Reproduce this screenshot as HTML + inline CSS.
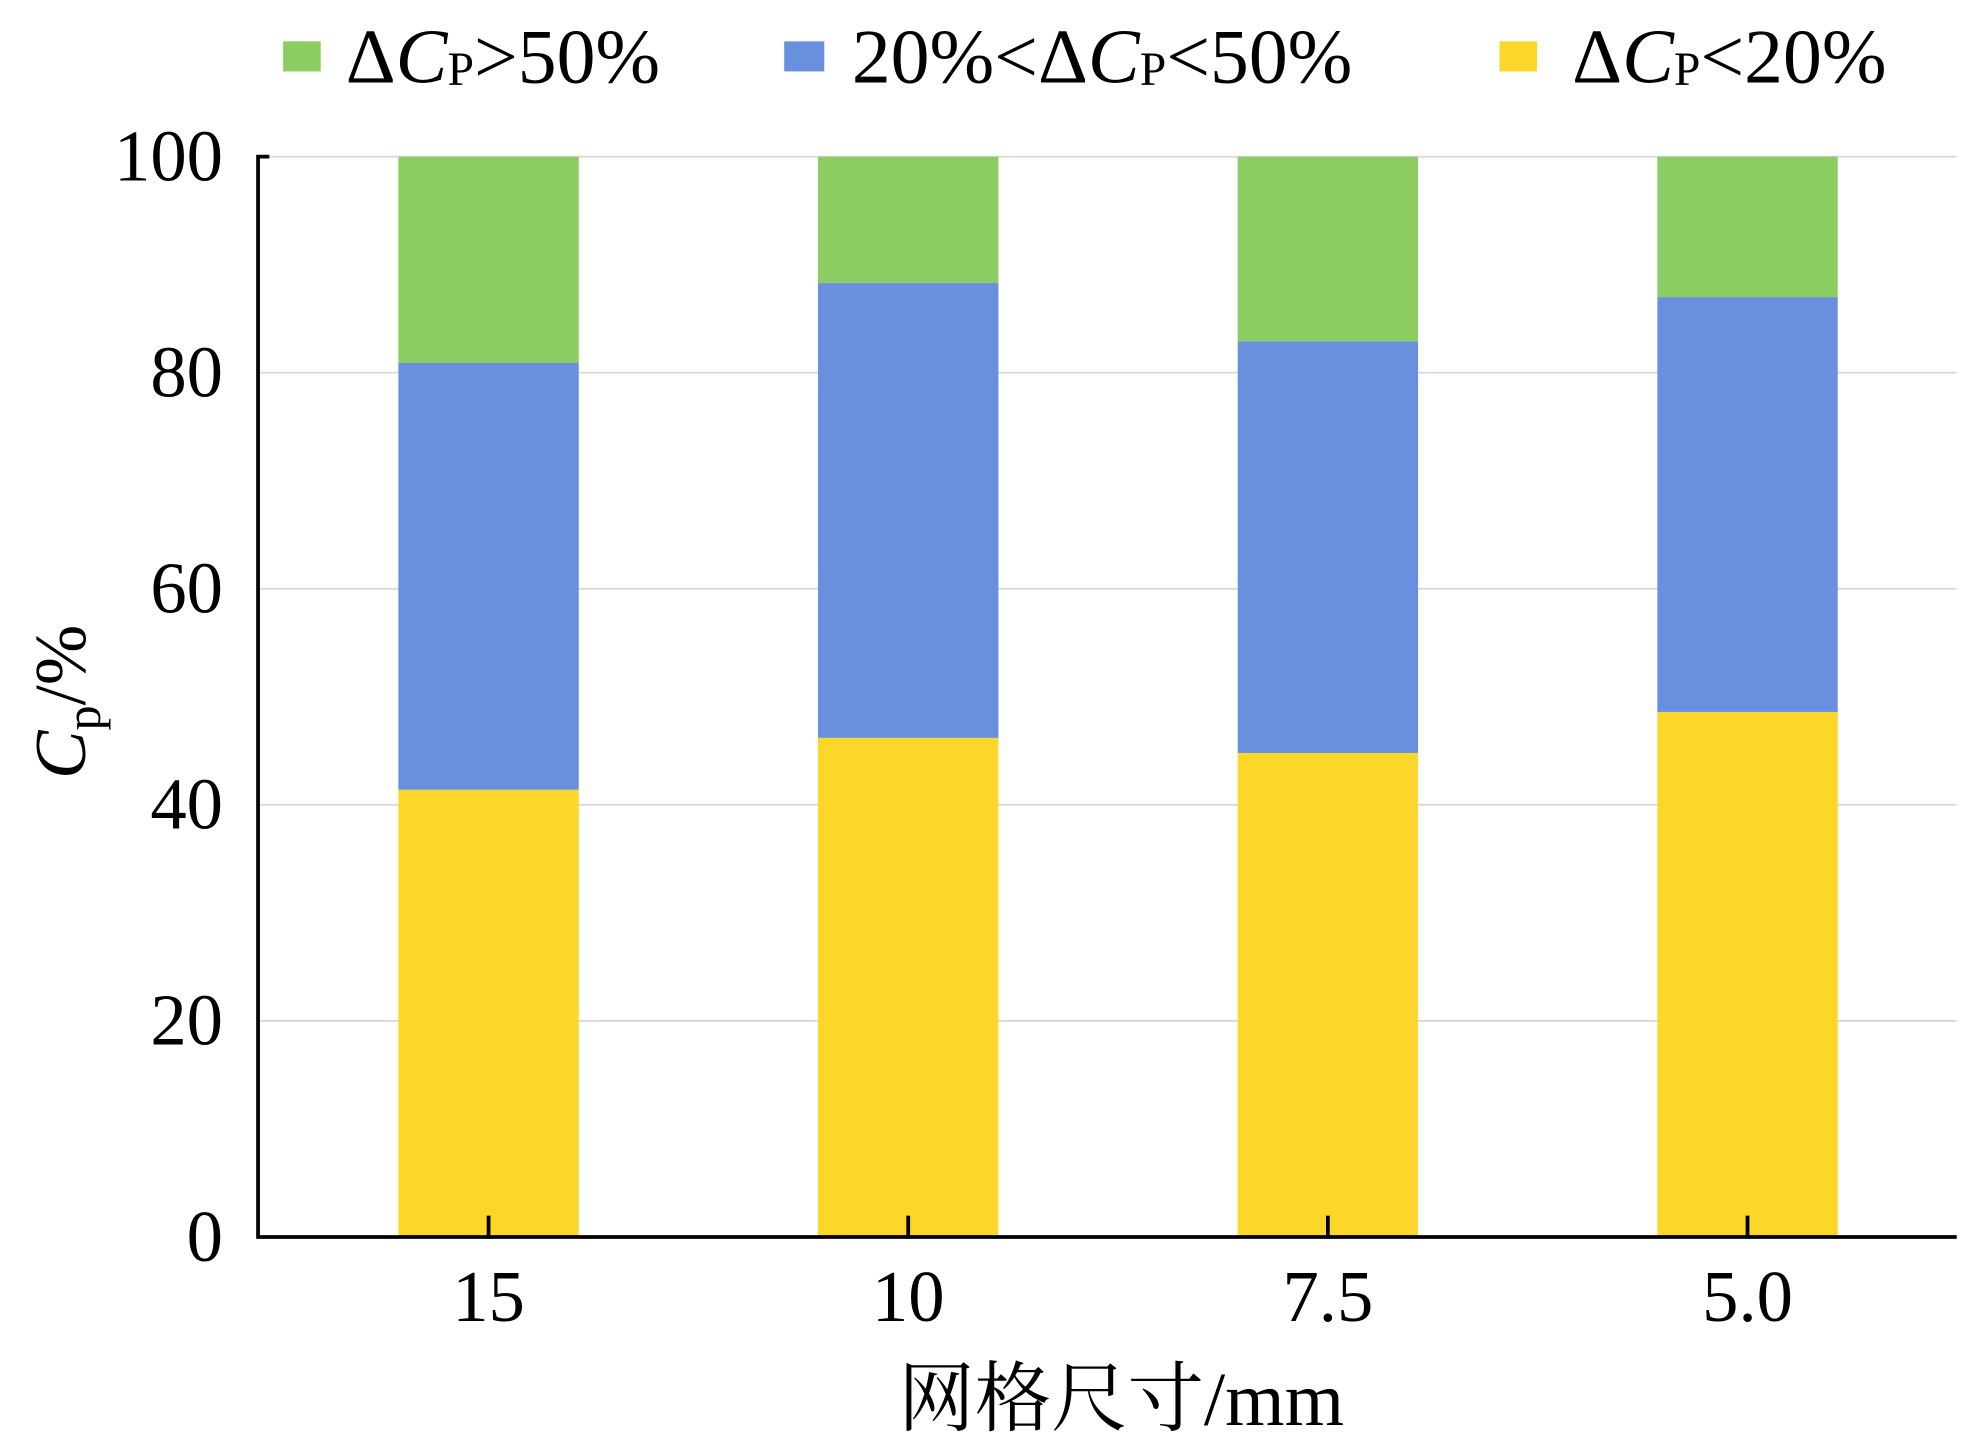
<!DOCTYPE html>
<html><head><meta charset="utf-8"><style>
html,body{margin:0;padding:0;background:#fff;}
svg{display:block;}
text{font-family:"Liberation Serif","Noto Serif CJK SC",serif;fill:#000;}
</style></head><body>
<svg id="chart" width="1963" height="1445" viewBox="0 0 1567 1153" preserveAspectRatio="none" xmlns="http://www.w3.org/2000/svg">
<g id="grid"></g>
<g id="bars"></g>
<g id="axes"></g>
<g>
  <rect x="226" y="33" width="30" height="24" fill="#8dcb63"/>
  <text x="276" y="66" font-size="62">Δ<tspan font-style="italic">C</tspan><tspan font-size="38" dy="2">P</tspan><tspan dy="-2">&gt;50%</tspan></text>
  <rect x="626" y="33" width="32" height="24" fill="#6890de"/>
  <text x="680" y="66" font-size="62">20%&lt;Δ<tspan font-style="italic">C</tspan><tspan font-size="38" dy="2">P</tspan><tspan dy="-2">&lt;50%</tspan></text>
  <rect x="1197" y="33" width="30" height="24" fill="#fdd62a"/>
  <text x="1255" y="66" font-size="62">Δ<tspan font-style="italic">C</tspan><tspan font-size="38" dy="2">P</tspan><tspan dy="-2">&lt;20%</tspan></text>
</g>
<text x="895" y="1137" font-size="61" text-anchor="middle">网格尺寸/mm</text>
<text transform="translate(68,560) rotate(-90)" font-size="58" text-anchor="middle"><tspan font-style="italic">C</tspan><tspan font-size="40" dy="12">p</tspan><tspan dy="-12">/%</tspan></text>
</svg>
<script>
const categories = ["15", "10", "7.5", "5.0"];
const lt20 = [41.4, 46.2, 44.8, 48.6];
const mid = [39.5, 42.1, 38.1, 38.4];
const gt50 = [19.1, 11.7, 17.1, 13.0];
const yTicks = [0, 20, 40, 60, 80, 100];

const NS = "http://www.w3.org/2000/svg";
const x0 = 206, x1 = 1562, yBot = 987, yTop = 125;
const y = v => yBot - (v / 100) * (yBot - yTop);
const band = 335, firstCenter = 390, barW = 144;
const xc = i => firstCenter + i * band;
function mk(tag, attrs, parent){const e=document.createElementNS(NS,tag);for(const k in attrs)e.setAttribute(k,attrs[k]);parent.appendChild(e);return e;}
const grid = document.getElementById('grid'), bars = document.getElementById('bars'), axes = document.getElementById('axes');
yTicks.forEach(t => {
  if (t > 0) {
    const g = mk('line', {x1:x0, x2:x1, y1:y(t), y2:y(t), stroke:'#d9d9d9', 'stroke-width':1.5}, grid);
    
    
  }
  const l = mk('text', {x:178, y:y(t)+19, 'font-size':58, 'text-anchor':'end'}, axes);
  l.textContent = t;
  
  
});
const series = [[lt20, '#fdd62a', 'lt20'], [mid, '#6890de', 'mid'], [gt50, '#8dcb63', 'gt50']];
categories.forEach((c, i) => {
  let base = 0;
  series.forEach(([arr, col, nm]) => {
    const v = arr[i];
    const r = mk('rect', {x:xc(i)-barW/2, y:y(base+v), width:barW, height:y(base)-y(base+v), fill:col}, bars);
    
    
    base += v;
  });
  const tk = mk('line', {x1:xc(i), x2:xc(i), y1:yBot, y2:yBot-17, stroke:'#000', 'stroke-width':3}, axes);
  
  
  const lb = mk('text', {x:xc(i), y:1054, 'font-size':58, 'text-anchor':'middle'}, axes);
  lb.textContent = c;
  
  
});
const ya = mk('polyline', {points:`${x0+9},${yTop} ${x0},${yTop} ${x0},${yBot} ${x1},${yBot}`, fill:'none', stroke:'#000', 'stroke-width':3}, axes);


</script>
</body></html>
